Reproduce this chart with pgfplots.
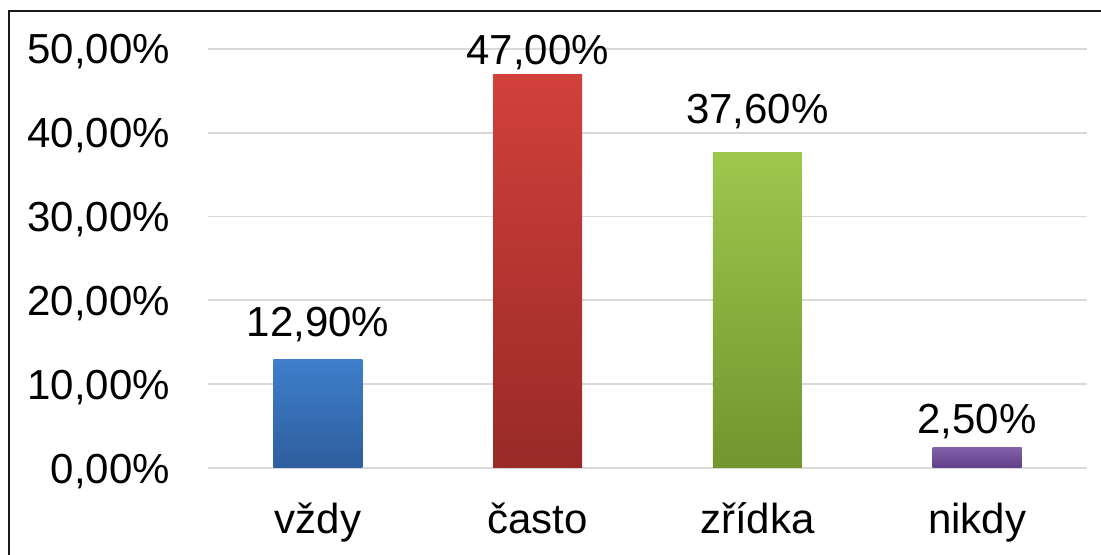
\documentclass[border=0pt]{standalone}
\usepackage{pgfplots}
\pgfplotsset{compat=1.18}
\usepackage{fontspec}
\setmainfont{Liberation Sans}
\definecolor{gridc}{HTML}{D9D9D9}
\definecolor{bluet}{HTML}{3E7ECB}
\definecolor{blueb}{HTML}{2E5E9E}
\definecolor{redt}{HTML}{D2403B}
\definecolor{redb}{HTML}{982A27}
\definecolor{greent}{HTML}{9DC74D}
\definecolor{greenb}{HTML}{72952E}
\definecolor{purplet}{HTML}{8262AA}
\definecolor{purpleb}{HTML}{613F88}
\newcommand{\bigf}{\fontsize{42bp}{50bp}\selectfont}
\begin{document}
\begin{tikzpicture}
\useasboundingbox (0,0) rectangle (1101bp,555bp);
\draw[line width=2.2bp, color=black!90] (9bp,0) -- (9bp,544bp) -- (1101bp,544bp);
\begin{axis}[
  at={(208bp,87bp)}, anchor=south west,
  scale only axis, width=879bp, height=419bp,
  xmin=-0.5, xmax=3.5, ymin=0, ymax=50,
  axis line style={draw=none},
  ytick={0,10,20,30,40,50},
  yticklabels={{0,00\%},{10,00\%},{20,00\%},{30,00\%},{40,00\%},{50,00\%}},
  xtick={0,1,2,3},
  xticklabels={vždy,často,zřídka,nikdy},
  major tick length=0pt,
  ymajorgrids, grid style={gridc, line width=1.8bp},
  /pgf/number format/assume math mode=true,
  yticklabel style={font=\bigf, anchor=base east, inner sep=0pt, xshift=-38bp, yshift=-15bp},
  xticklabel style={font=\bigf, anchor=base, inner sep=0pt, yshift=-65bp},
  clip=false,
]
\addplot[ybar, bar width=89bp, bar shift=0pt, draw=none, top color=bluet, bottom color=blueb,
  nodes near coords={12,90\%},
  every node near coord/.append style={font=\bigf, anchor=base, inner sep=0pt, yshift=23bp, text=black}]
  coordinates {(0,12.9)};
\addplot[ybar, bar width=89bp, bar shift=0pt, draw=none, top color=redt, bottom color=redb,
  nodes near coords={47,00\%},
  every node near coord/.append style={font=\bigf, anchor=base, inner sep=0pt, yshift=10bp, text=black}]
  coordinates {(1,47.0)};
\addplot[ybar, bar width=89bp, bar shift=0pt, draw=none, top color=greent, bottom color=greenb,
  nodes near coords={37,60\%},
  every node near coord/.append style={font=\bigf, anchor=base, inner sep=0pt, yshift=29bp, text=black}]
  coordinates {(2,37.6)};
\addplot[ybar, bar width=89bp, bar shift=0pt, draw=none, top color=purplet, bottom color=purpleb,
  nodes near coords={2,50\%},
  every node near coord/.append style={font=\bigf, anchor=base, inner sep=0pt, yshift=14bp, text=black}]
  coordinates {(3,2.5)};
\end{axis}
\end{tikzpicture}
\end{document}
